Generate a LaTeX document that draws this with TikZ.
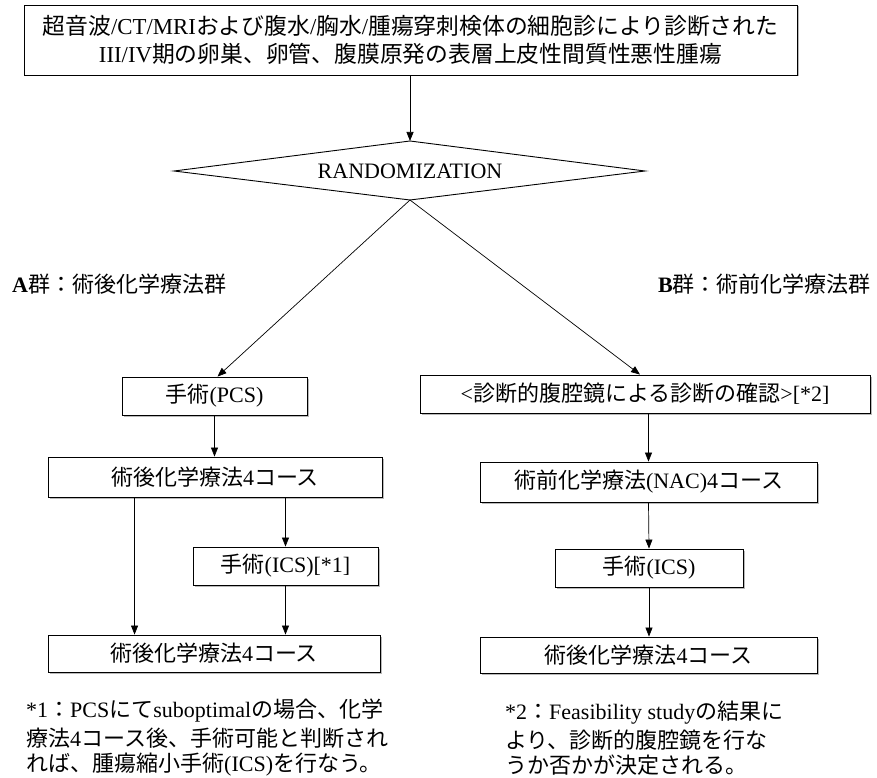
\documentclass[tikz,border=0pt]{standalone}
\usepackage{fontspec}
\setmainfont{Liberation Serif}
\newfontfamily\jp{Noto Sans CJK JP}
\usetikzlibrary{arrows.meta,shadows}
\newcommand\J[1]{{\jp #1}}
\begin{document}
\begin{tikzpicture}[x=1pt,y=-1pt,
  every node/.style={font=\fontsize{22}{28}\selectfont, inner sep=0pt},
  box/.style={draw, fill=white, line width=0.9pt, rectangle,
    drop shadow={shadow xshift=1.5pt, shadow yshift=-1.5pt, fill=gray!55, opacity=1}},
  arr/.style={-{Triangle[length=9pt,width=7pt]}, line width=0.7pt},
  note/.style={anchor=base west}
]
\useasboundingbox (0,0) rectangle (877,778);

% top box
\node[box, minimum width=773pt, minimum height=70pt, align=center,
      font=\fontsize{22.8}{28}\selectfont] (top) at (410.5,40)
  {\J{超音波}/CT/MRI\J{および腹水}/\J{胸水}/\J{腫瘍穿刺検体の細胞診により診断された}\\
   III/IV\J{期の卵巣、卵管、腹膜原発の表層上皮性間質性悪性腫瘍}};

% randomization diamond
\coordinate (dt) at (410,141);
\coordinate (db) at (410,200);
\coordinate (dl) at (174,171);
\coordinate (dr) at (645,171);
\draw[line width=0.9pt, line join=miter] (dl) -- (dt) -- (dr) -- (db) -- cycle;
\node (rand) at (410,171) {RANDOMIZATION};

% group labels
\node[anchor=west] (la) at (12,284) {\textbf{A}\J{群：術後化学療法群}};
\node[anchor=east] (lb) at (871,284) {\textbf{B}\J{群：術前化学療法群}};

% left column
\node[box, minimum width=185pt, minimum height=38pt] (pcs) at (214.5,396) {\J{手術}(PCS)};
\node[box, minimum width=334pt, minimum height=40pt] (a1) at (215,477) {\J{術後化学療法}4\J{コース}};
\node[box, minimum width=185pt, minimum height=38pt] (ics1) at (285.5,566) {\J{手術}(ICS)[*1]};
\node[box, minimum width=332pt, minimum height=37pt] (a2) at (214,653.5) {\J{術後化学療法}4\J{コース}};

% right column
\node[box, minimum width=450pt, minimum height=38pt] (b0) at (645,394) {<\J{診断的腹腔鏡による診断の確認}>[*2]};
\node[box, minimum width=337pt, minimum height=40pt] (b1) at (648.5,482) {\J{術前化学療法}(NAC)4\J{コース}};
\node[box, minimum width=188pt, minimum height=38pt] (b2) at (649,568) {\J{手術}(ICS)};
\node[box, minimum width=337pt, minimum height=36pt] (b3) at (648.5,655) {\J{術後化学療法}4\J{コース}};

% footnotes
\node[note] (f1a) at (26,717) {*1\J{：}PCS\J{にて}suboptimal\J{の場合、化学}};
\node[note] (f1b) at (26,746) {\J{療法}4\J{コース後、手術可能と判断され}};
\node[note] (f1c) at (26,771) {\J{れば、腫瘍縮小手術}(ICS)\J{を行なう。}};
\node[note] (f2a) at (505,719) {*2\J{：}Feasibility study\J{の結果に}};
\node[note] (f2b) at (505,748) {\J{より、診断的腹腔鏡を行な}};
\node[note] (f2c) at (505,773) {\J{うか否かが決定される。}};

% connectors
\draw[arr] (top.south -| dt) -- (dt);
\draw[arr] (db) -- ([xshift=3pt]pcs.north);
\draw[arr] (db) -- ([xshift=-5pt]b0.north);
\draw[arr] (pcs.south) -- (pcs.south |- a1.north);
\draw[arr] (ics1.north |- a1.south) -- (ics1.north);
\draw[arr] ([xshift=87pt]a1.south west) -- ([xshift=87pt]a2.north west);
\draw[arr] (ics1.south) -- (ics1.south |- a2.north);
\draw[arr] (b1.north |- b0.south) -- (b1.north);
\draw[arr] (b1.south) -- (b2.north);
\draw[arr] (b2.south) -- (b2.south |- b3.north);
\end{tikzpicture}
\end{document}
